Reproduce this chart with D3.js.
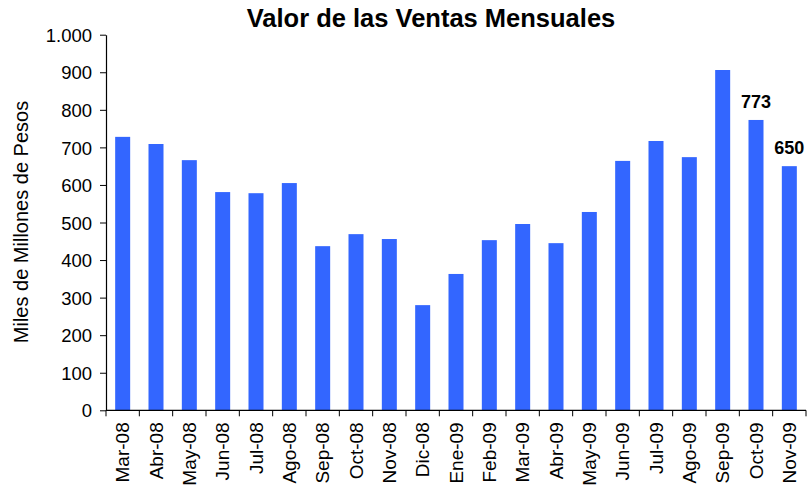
<!DOCTYPE html>
<html>
<head>
<meta charset="utf-8">
<script src="https://cdn.jsdelivr.net/npm/d3@7"></script>
<style>
  body { margin: 0; background: #fff; }
  text { font-family: "Liberation Sans", Arial, sans-serif; fill: #000; }
</style>
</head>
<body>
<div id="grafico"></div>
<script>
const width = 808
const height = 489

const meses = ['Mar-08', 'Abr-08', 'May-08', 'Jun-08', 'Jul-08', 'Ago-08', 'Sep-08', 'Oct-08', 'Nov-08', 'Dic-08',
               'Ene-09', 'Feb-09', 'Mar-09', 'Abr-09', 'May-09', 'Jun-09', 'Jul-09', 'Ago-09', 'Sep-09', 'Oct-09', 'Nov-09']
const ventas = [728, 709, 666, 581, 578, 605, 437, 469, 456, 280,
                363, 453, 496, 445, 528, 664, 717, 674, 906, 773, 650]
const etiquetados = ['Oct-09', 'Nov-09']
const ticksY = [0, 100, 200, 300, 400, 500, 600, 700, 800, 900, 1000]

const margin = { top: 34.7, right: 2, bottom: 78.7, left: 106 }

const svg = d3.select('#grafico')
              .append('svg')
              .attr('width', width)
              .attr('height', height)

const x = d3.scaleBand()
            .domain(meses)
            .range([margin.left, width - margin.right])
            .paddingInner(0.55)
            .paddingOuter(0.275)

const y = d3.scaleLinear()
            .domain([0, 1000])
            .range([height - margin.bottom, margin.top])

const fmt = d => d3.format(',')(d).replace(',', '.')

// barras
svg.append('g')
   .selectAll('rect')
   .data(meses)
   .enter()
   .append('rect')
   .attr('x', d => x(d))
   .attr('y', (d, i) => y(ventas[i]))
   .attr('width', x.bandwidth())
   .attr('height', (d, i) => y(0) - y(ventas[i]))
   .style('fill', '#3366ff')

// eje Y
const ejeY = svg.append('g')
                .attr('transform', `translate(${margin.left},0)`)
                .call(d3.axisLeft(y).tickValues(ticksY).tickFormat(fmt).tickSize(6).tickSizeOuter(0))
ejeY.select('.domain').attr('stroke', '#000').attr('stroke-width', 1.2)
ejeY.selectAll('.tick line').attr('stroke', '#000')
ejeY.selectAll('.tick text')
    .attr('x', -14)
    .attr('dy', '0.36em')
    .style('font-size', '18.5px')
    .style('font-family', '"Liberation Sans", Arial, sans-serif')

// eje X
const y0 = y(0)
const step = x.step()
const bordes = d3.range(meses.length + 1).map(i => margin.left + i * step)

svg.append('line')
   .attr('x1', margin.left)
   .attr('x2', width - margin.right)
   .attr('y1', y0)
   .attr('y2', y0)
   .attr('stroke', '#000')
   .attr('stroke-width', 1.2)

svg.append('g')
   .selectAll('line')
   .data(bordes)
   .enter()
   .append('line')
   .attr('x1', d => d)
   .attr('x2', d => d)
   .attr('y1', y0)
   .attr('y2', y0 + 6)
   .attr('stroke', '#000')

svg.append('g')
   .selectAll('text')
   .data(meses)
   .enter()
   .append('text')
   .attr('transform', d => `translate(${x(d) + x.bandwidth() / 2 + 6.5},${y0 + 12}) rotate(-90)`)
   .attr('text-anchor', 'end')
   .style('font-size', '19px')
   .text(d => d)

// etiquetas de datos
svg.append('g')
   .selectAll('text')
   .data(meses.filter(d => etiquetados.includes(d)))
   .enter()
   .append('text')
   .attr('x', d => x(d) + x.bandwidth() / 2)
   .attr('y', d => y(ventas[meses.indexOf(d)]) - 12)
   .attr('text-anchor', 'middle')
   .style('font-size', '18px')
   .style('font-weight', 'bold')
   .text(d => ventas[meses.indexOf(d)])

// título
svg.append('text')
   .attr('x', 431)
   .attr('y', 27)
   .attr('text-anchor', 'middle')
   .style('font-size', '25.5px')
   .style('font-weight', 'bold')
   .text('Valor de las Ventas Mensuales')

// título eje Y
svg.append('text')
   .attr('transform', 'translate(28,222) rotate(-90)')
   .attr('text-anchor', 'middle')
   .style('font-size', '20px')
   .text('Miles de Millones de Pesos')
</script>
</body>
</html>
